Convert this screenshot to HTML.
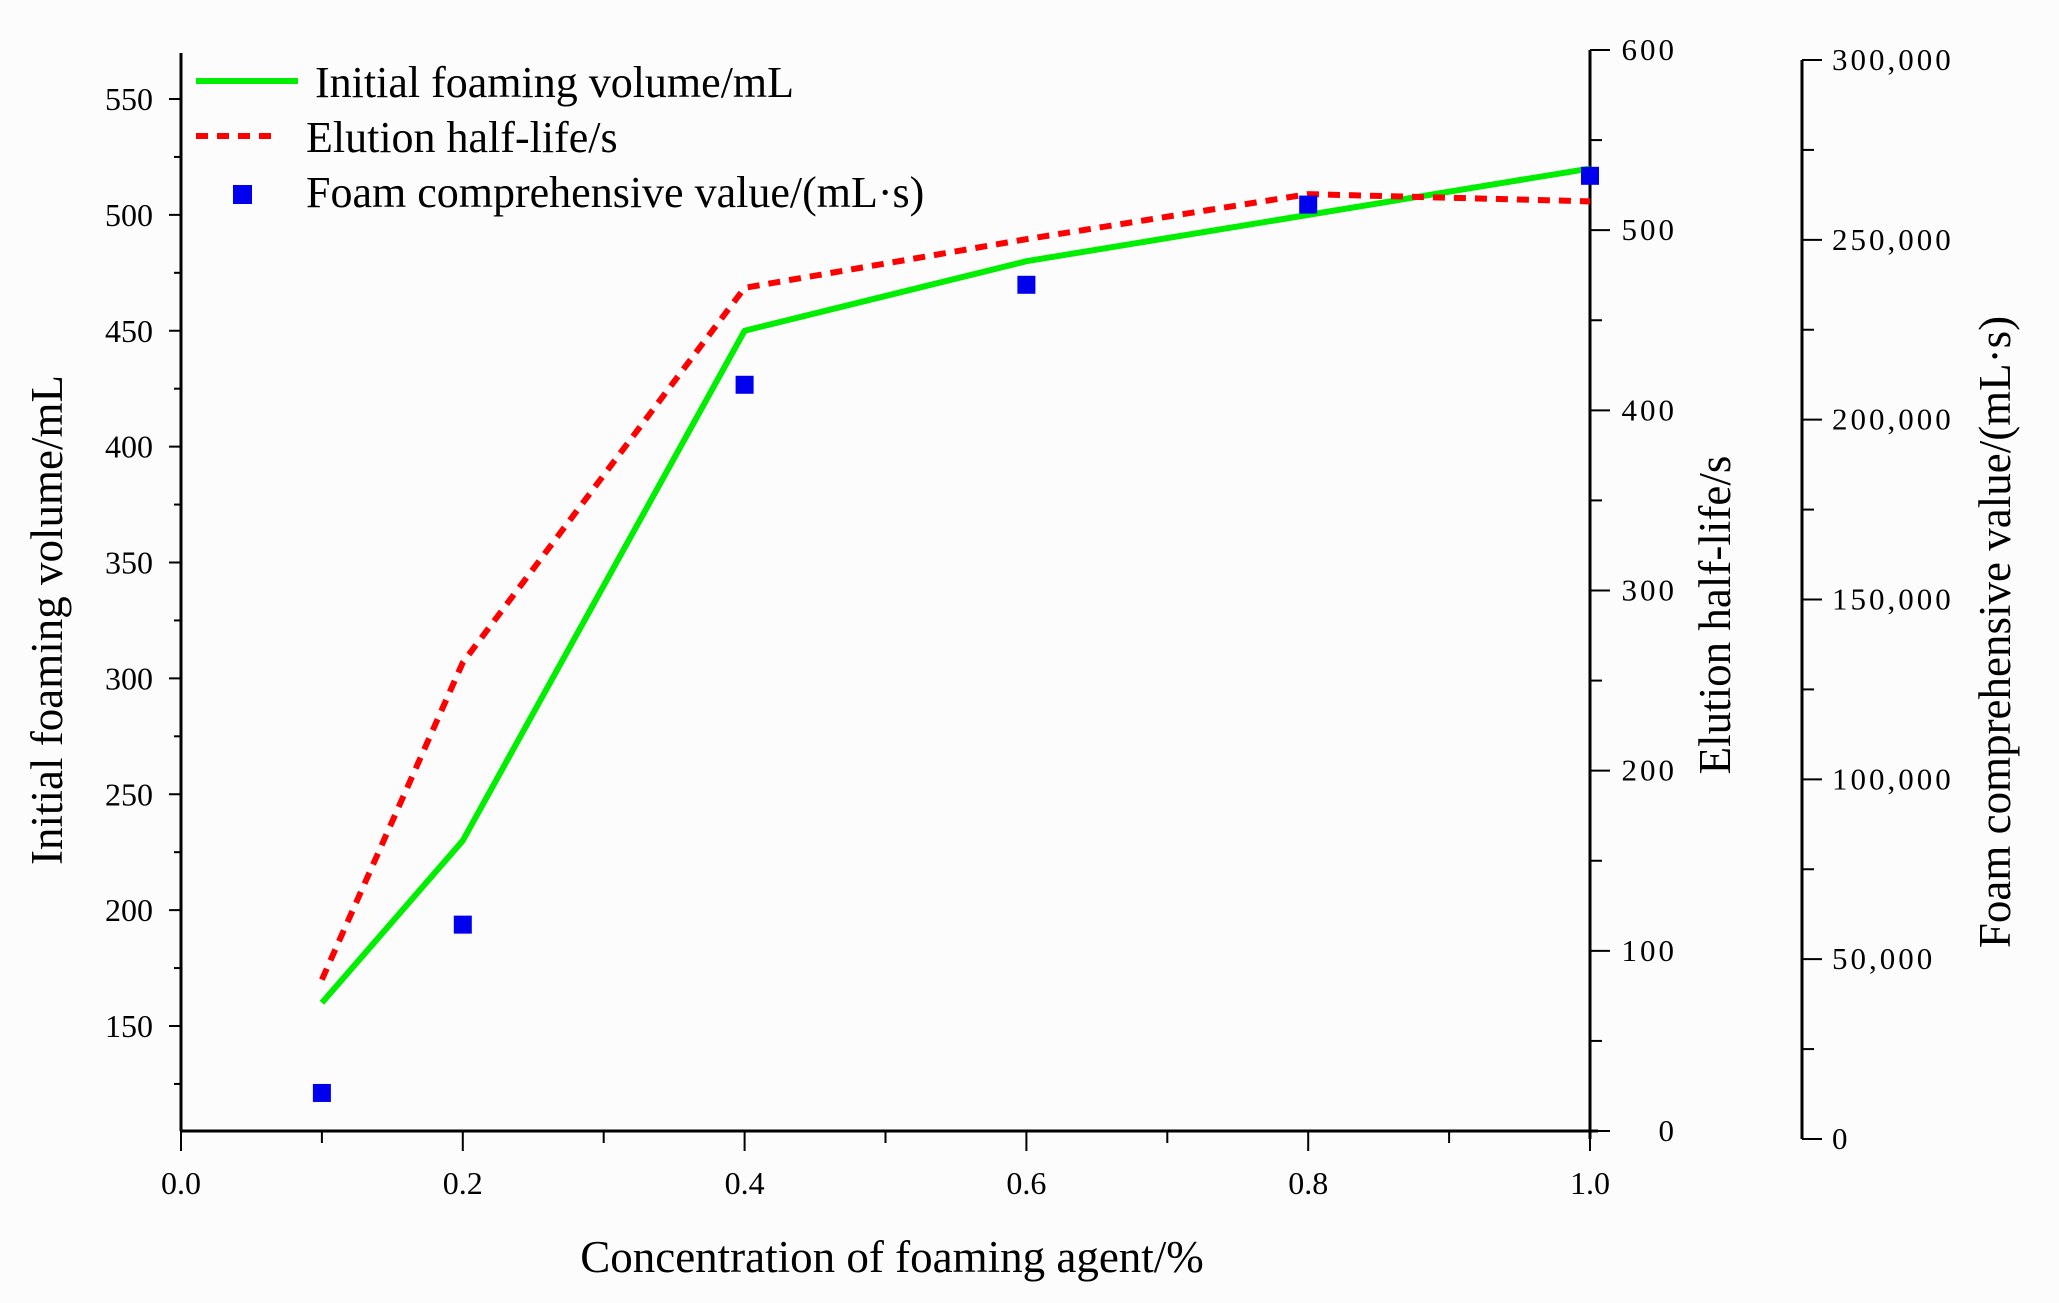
<!DOCTYPE html>
<html><head><meta charset="utf-8"><style>
html,body{margin:0;padding:0;background:#fff;}
svg{display:block;font-family:"Liberation Serif",serif;}
</style></head><body>
<svg id="chart" width="2059" height="1303" viewBox="0 0 2059 1303">
<rect x="0" y="0" width="2059" height="1303" fill="#fdfcfc"/>
<g id="axes"></g>
<g id="series"></g>
<g id="legend">
  <line x1="196" y1="81" x2="298" y2="81" stroke="#00ee00" stroke-width="6"/>
  <text x="315" y="97" font-size="44">Initial foaming volume/mL</text>
  <line x1="196" y1="136" x2="272" y2="136" stroke="#ff0000" stroke-width="6" stroke-dasharray="12,9"/>
  <text x="306" y="152" font-size="44">Elution half-life/s</text>
  <rect x="233" y="185" width="19" height="19" fill="#0000ee"/>
  <text x="306" y="207" font-size="44">Foam comprehensive value/(mL·s)</text>
</g>
</svg>
<script>
const categories = [0.1, 0.2, 0.4, 0.6, 0.8, 1.0];
const foamingVolume = [160, 230, 450, 480, 500, 520];
const halfLife = [84, 260, 468, 495, 520, 516];
const comprehensive = [12800, 59600, 209700, 237500, 259800, 267800];
const xTicks = ["0.0","0.2","0.4","0.6","0.8","1.0"];
const leftTicks = [150,200,250,300,350,400,450,500,550];
const rightTicks = [0,100,200,300,400,500,600];
const thirdTicks = ["0","50,000","100,000","150,000","200,000","250,000","300,000"];

const NS="http://www.w3.org/2000/svg";
function mk(tag, attrs, parent, text){const e=document.createElementNS(NS,tag);for(const k in attrs)e.setAttribute(k,attrs[k]);if(text!==undefined)e.textContent=text;parent.appendChild(e);return e;}
const X0=181, X1=1590, XB=1131;
const xS=v=>X0+(v-0)/(1-0)*(X1-X0);
const yL=v=>1026-(v-150)*2.3175;
const yR=v=>1131-v/600*(1131-50);
const A2=1802;
const yT=v=>1139-v/300000*(1139-60);
const ax=document.getElementById('axes');

// left axis
let e=mk('line',{x1:X0,y1:53,x2:X0,y2:XB,stroke:'#000','stroke-width':3},ax);

for(let v=125;v<=550;v+=25){const y=yL(v);const major=v%50===0;
 e=mk('line',{x1:X0-(major?12:7),y1:y,x2:X0,y2:y,stroke:'#000','stroke-width':2},ax);
 }
leftTicks.forEach(v=>{e=mk('text',{x:X0-28,y:yL(v)+11,'font-size':32,'text-anchor':'end'},ax,String(v));
 });
e=mk('text',{x:0,y:0,'font-size':45,'text-anchor':'middle',transform:'translate(62,620) rotate(-90)'},ax,'Initial foaming volume/mL');


// x axis
e=mk('line',{x1:X0,y1:XB,x2:X1+8,y2:XB,stroke:'#000','stroke-width':3},ax);

for(let i=0;i<=10;i++){const x=xS(i/10);const major=i%2===0;
 e=mk('line',{x1:x,y1:XB,x2:x,y2:XB+(major?20:12),stroke:'#000','stroke-width':2},ax);
 }
xTicks.forEach((t,i)=>{e=mk('text',{x:xS(i*0.2),y:XB+63,'font-size':32,'text-anchor':'middle'},ax,t);
 });
e=mk('text',{x:892,y:1272,'font-size':45,'text-anchor':'middle'},ax,'Concentration of foaming agent/%');


// right axis 1
e=mk('line',{x1:X1,y1:50,x2:X1,y2:XB+8,stroke:'#000','stroke-width':3},ax);

for(let v=0;v<=600;v+=50){const y=yR(v);const major=v%100===0;
 e=mk('line',{x1:X1,y1:y,x2:X1+(major?20:12),y2:y,stroke:'#000','stroke-width':2},ax);
 }
rightTicks.forEach(v=>{e=mk('text',{x:1677,y:yR(v)+10,'font-size':31,'text-anchor':'end','letter-spacing':'3'},ax,String(v));
 });
e=mk('text',{x:0,y:0,'font-size':45,'text-anchor':'middle',transform:'translate(1730,615) rotate(-90)'},ax,'Elution half-life/s');


// right axis 2
e=mk('line',{x1:A2,y1:60,x2:A2,y2:1139,stroke:'#000','stroke-width':3},ax);

for(let v=0;v<=300000;v+=25000){const y=yT(v);const major=v%50000===0;
 e=mk('line',{x1:A2,y1:y,x2:A2+(major?20:12),y2:y,stroke:'#000','stroke-width':2},ax);
 }
thirdTicks.forEach((t,i)=>{e=mk('text',{x:1832,y:yT(i*50000)+10,'font-size':31,'letter-spacing':'3'},ax,t);
 });
e=mk('text',{x:0,y:0,'font-size':45,'text-anchor':'middle',transform:'translate(2010,632) rotate(-90)'},ax,'Foam comprehensive value/(mL·s)');


// series
const sg=document.getElementById('series');
e=mk('polyline',{points:categories.map((c,i)=>xS(c)+','+yL(foamingVolume[i])).join(' '),fill:'none',stroke:'#00ee00','stroke-width':6,'stroke-linejoin':'round'},sg);

e=mk('polyline',{points:categories.map((c,i)=>xS(c)+','+yR(halfLife[i])).join(' '),fill:'none',stroke:'#ff0000','stroke-width':6,'stroke-dasharray':'12,9'},sg);

categories.forEach((c,i)=>{e=mk('rect',{x:xS(c)-9,y:yT(comprehensive[i])-9,width:18,height:18,fill:'#0000ee'},sg);
 });
</script>
</body></html>
